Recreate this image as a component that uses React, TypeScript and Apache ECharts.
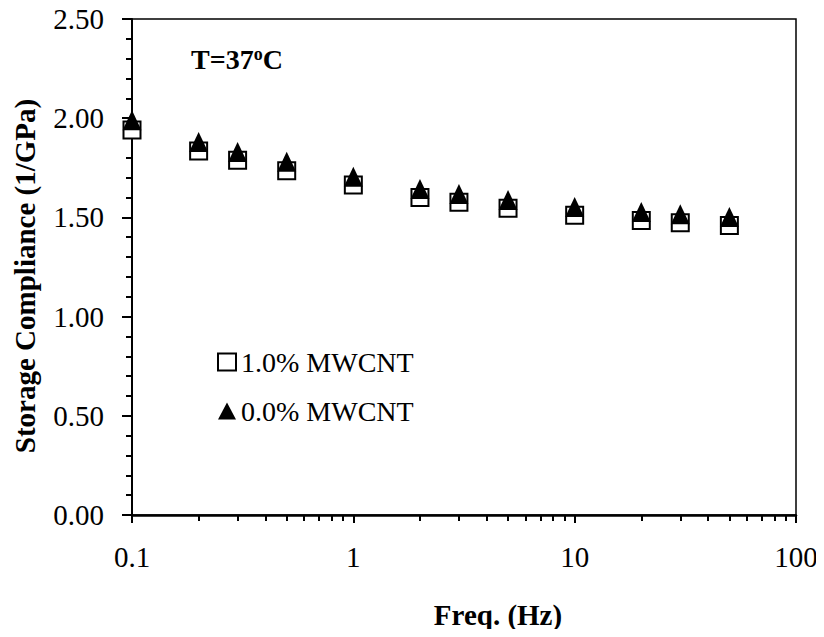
import React, { useEffect, useRef } from "react";
import * as echarts from "echarts";

const freqs = [0.1, 0.2, 0.3, 0.5, 1, 2, 3, 5, 10, 20, 30, 50];
const mwcnt10 = [1.94, 1.835, 1.788, 1.735, 1.663, 1.6, 1.576, 1.546, 1.511, 1.484, 1.473, 1.459];
const mwcnt00 = [1.99, 1.88, 1.83, 1.78, 1.705, 1.643, 1.618, 1.588, 1.552, 1.527, 1.516, 1.502];
const seriesNames = ["1.0% MWCNT", "0.0% MWCNT"];
const xTitle = "Freq. (Hz)";
const yTitle = "Storage Compliance (1/GPa)";

const FONT = "Liberation Serif";

export default function App() {
  const ref = useRef<HTMLDivElement>(null);
  useEffect(() => {
    if (!ref.current) return;
    const chart = echarts.init(ref.current, undefined, { renderer: "svg" });
    chart.setOption({
      animation: false,
      backgroundColor: "#ffffff",
      textStyle: { fontFamily: FONT, color: "#000" },
      grid: {
        left: 132,
        right: 28,
        top: 19,
        bottom: 122,
        show: true,
        borderColor: "#000",
        borderWidth: 1.5,
        containLabel: false,
      },
      legend: {
        orient: "vertical",
        left: 212,
        top: 343,
        itemWidth: 18,
        itemHeight: 17,
        itemGap: 21,
        textStyle: { fontFamily: FONT, fontSize: 28, color: "#000" },
        data: seriesNames,
      },
      xAxis: {
        type: "log",
        logBase: 10,
        min: 0.1,
        max: 100,
        axisLine: { show: true, lineStyle: { color: "#000", width: 2.5 } },
        axisTick: { show: true, inside: false, length: 8, lineStyle: { color: "#000", width: 2 } },
        minorTick: { show: true, splitNumber: 9, length: 6, lineStyle: { color: "#000", width: 2 } },
        axisLabel: { fontFamily: FONT, fontSize: 29, color: "#000", margin: 27 },
        splitLine: { show: false },
        minorSplitLine: { show: false },
      },
      yAxis: {
        type: "value",
        min: 0,
        max: 2.5,
        interval: 0.5,
        axisLine: { show: true, lineStyle: { color: "#000", width: 2 } },
        axisTick: { show: true, inside: false, length: 10, lineStyle: { color: "#000", width: 2 } },
        minorTick: { show: true, splitNumber: 5, length: 6, lineStyle: { color: "#000", width: 2 } },
        axisLabel: {
          fontFamily: FONT,
          fontSize: 29,
          color: "#000",
          margin: 28,
          formatter: (v: number) => v.toFixed(2),
        },
        splitLine: { show: false },
        minorSplitLine: { show: false },
      },
      graphic: [
        {
          type: "text",
          left: 191,
          top: 45,
          style: {
            text: "{a|T=37}{b|o}{a|C}",
            rich: {
              a: { fontFamily: FONT, fontSize: 28, fontWeight: "bold", fill: "#000" },
              b: { fontFamily: FONT, fontSize: 18, fontWeight: "bold", fill: "#000", padding: [0, 0, 10, 0] },
            },
          },
        },
        {
          type: "text",
          x: 498,
          y: 615,
          style: {
            text: xTitle,
            fontFamily: FONT,
            fontSize: 29,
            fontWeight: "bold",
            fill: "#000",
            align: "center",
            verticalAlign: "middle",
          },
        },
        {
          type: "text",
          x: 25,
          y: 276,
          rotation: Math.PI / 2,
          style: {
            text: yTitle,
            fontFamily: FONT,
            fontSize: 29,
            fontWeight: "bold",
            fill: "#000",
            align: "center",
            verticalAlign: "middle",
          },
        },
      ],
      series: [
        {
          name: seriesNames[0],
          type: "scatter",
          symbol: "rect",
          symbolSize: 17,
          itemStyle: { color: "#ffffff", borderColor: "#000", borderWidth: 2, opacity: 1 },
          data: freqs.map((f, i) => [f, mwcnt10[i]]),
          z: 2,
        },
        {
          name: seriesNames[1],
          type: "scatter",
          symbol: "triangle",
          symbolSize: [19, 20],
          itemStyle: { color: "#000", opacity: 1 },
          data: freqs.map((f, i) => [f, mwcnt00[i]]),
          z: 3,
        },
      ],
    });
    return () => chart.dispose();
  }, []);
  return <div ref={ref} style={{ width: 824, height: 637, margin: -8 }} />;
}
